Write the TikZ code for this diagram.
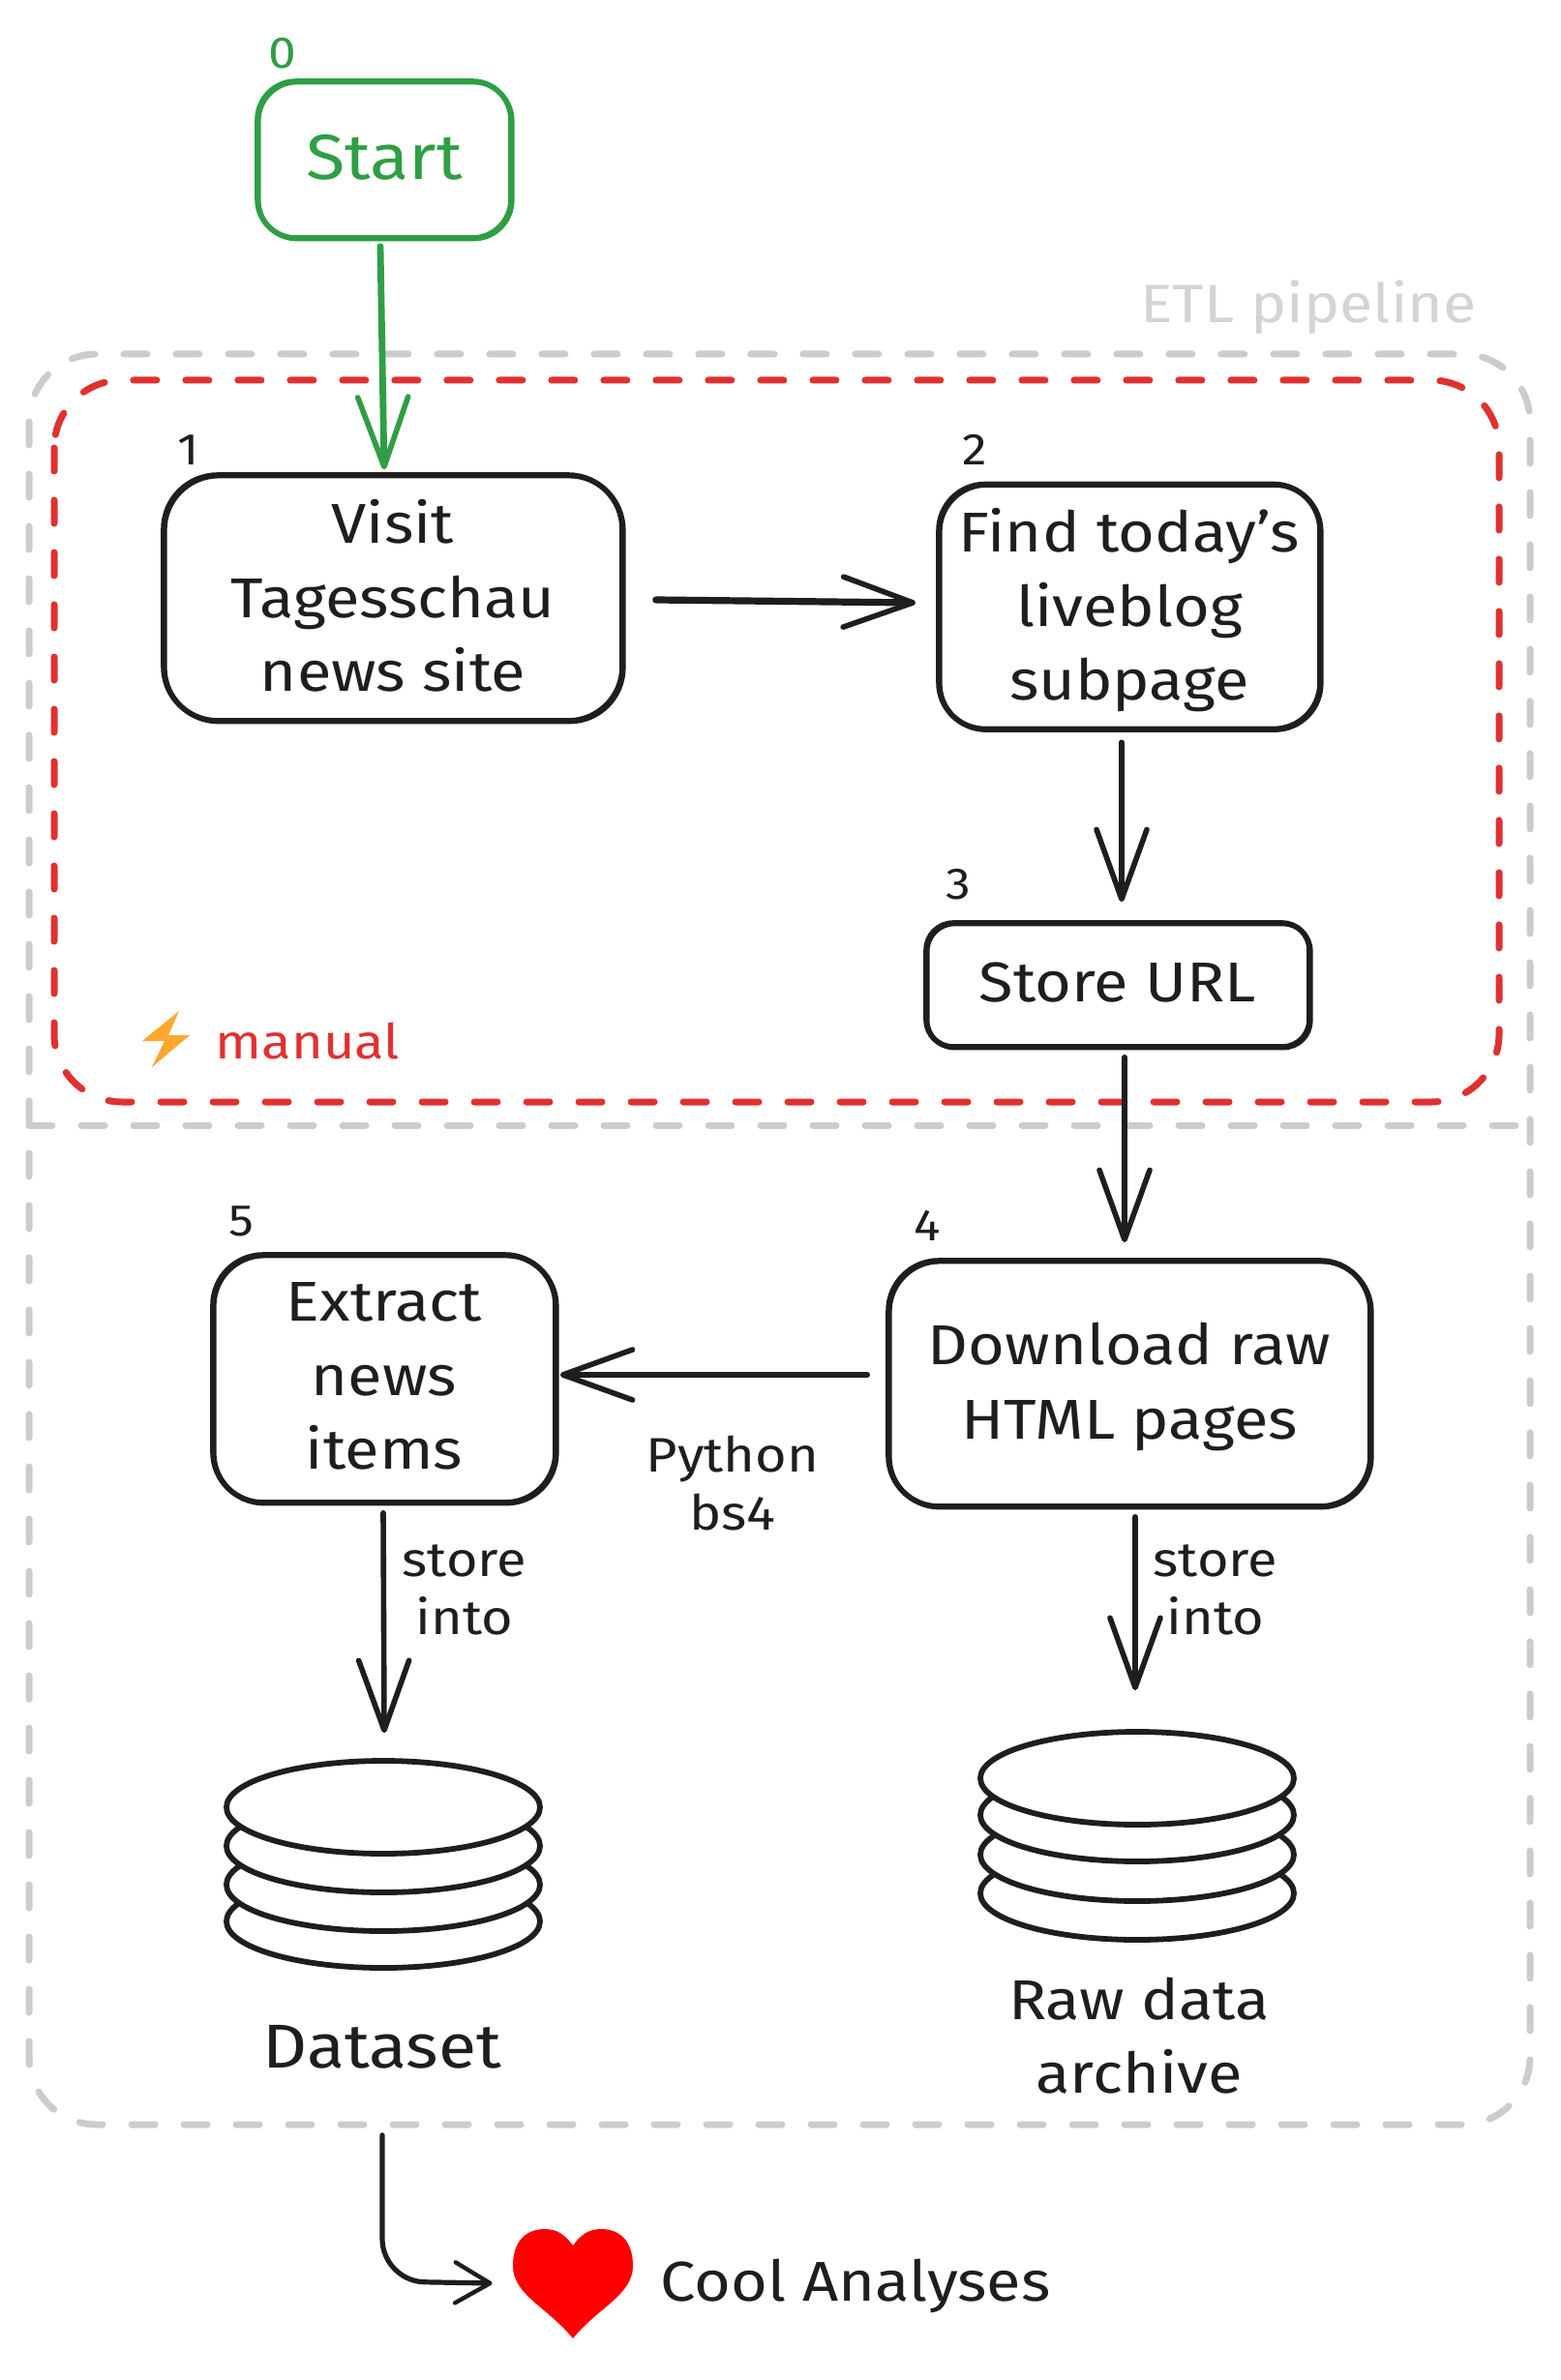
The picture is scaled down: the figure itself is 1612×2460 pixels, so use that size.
\documentclass[tikz,border=0pt]{standalone}
\usepackage{fontspec}
\setmainfont{Fira Sans}[FakeStretch=1.12]
\usetikzlibrary{arrows.meta,shapes.geometric,calc}
\definecolor{ink}{HTML}{1E1E1E}
\definecolor{grn}{HTML}{2F9E44}
\definecolor{rd}{HTML}{E03131}
\definecolor{frame}{HTML}{CCCCCC}
\definecolor{etl}{HTML}{D4D4D4}
\definecolor{bolt}{HTML}{FCA82E}
\newcommand{\liftend}{\\[-35.6pt]}
\tikzset{
  box/.style={draw=ink,text=ink,line width=2.8pt,align=center,inner sep=0pt,
    preaction={draw,line width=2.4pt,transform canvas={shift={(.6pt,-.5pt)}}},
    font=\fontsize{29}{38.2}\selectfont},
  lbl/.style={text=ink,align=center,inner sep=0pt,font=\fontsize{29}{38.2}\selectfont},
  small/.style={text=ink,align=center,inner sep=0pt,font=\fontsize{25}{30}\selectfont},
  num/.style={text=ink,inner sep=0pt,font=\fontsize{23}{26}\selectfont},
  conn/.style={draw=ink,line width=2.8pt,line cap=round,line join=round},
  bar/.style={-{Straight Barb[length=36pt,width=26pt,round,line width=2.8pt]}},
  barb/.style={-{Straight Barb[length=18pt,width=21pt,round,line width=2.2pt]}},
  disk/.style={shape=ellipse,draw=ink,fill=white,line width=2.9pt,inner sep=0pt,
    minimum width=162pt,minimum height=48pt},
  dashframe/.style={line width=3.5pt,line cap=round,dash pattern=on 12pt off 15pt,rounded corners=35pt}
}
\begin{document}
\begin{tikzpicture}[x=.5pt,y=-.5pt]
\useasboundingbox (0,0) rectangle (1612,2460);
\fill[white] (0,0) rectangle (1612,2460);
% frames
\draw[dashframe,draw=frame] (30,366) rectangle (1581,2196);
\draw[line width=3.5pt,line cap=round,dash pattern=on 12pt off 15pt,draw=frame] (30,1163) coordinate (divL) -- (1581,1163) coordinate (divR);
\draw[dashframe,draw=rd] (56,393) rectangle (1549,1139);
\node[inner sep=0pt,text=etl,font=\fontsize{28}{30}\selectfont] (etlt) at (1352,318) {ETL pipeline};
\node[inner sep=0pt,text=rd,font=\fontsize{25}{30}\selectfont] (manual) at (318,1076) {manual};
\fill[bolt] (185,1045) -- (147,1076) -- (170,1076) -- (157,1103) -- (196,1070) -- (174,1070) -- cycle;
% boxes
\node[box,draw=grn,text=grn,minimum width=131pt,minimum height=81pt,rounded corners=20pt,font=\fontsize{33}{38.2}\selectfont] (start) at (397,165) {Start\liftend};
\node[box,minimum width=237pt,minimum height=127pt,rounded corners=28pt] (visit) at (406,618) {Visit\\Tagesschau\\news site\liftend};
\node[box,minimum width=197pt,minimum height=126.5pt,rounded corners=24pt] (find) at (1167,627) {Find today's\\liveblog\\subpage\liftend};
\node[box,minimum width=198pt,minimum height=64pt,rounded corners=14pt] (store) at (1155,1018) {Store URL\liftend};
\node[box,minimum width=249pt,minimum height=127pt,rounded corners=26pt] (down) at (1167,1430) {Download raw\\HTML pages\liftend};
\node[box,minimum width=177pt,minimum height=128pt,rounded corners=26pt] (extract) at (397,1425) {Extract\\news\\items\liftend};
% numbers
\node[num,text=grn] (n0) at (292,55) {0};
\node[num] (n1) at (195,465) {1};
\node[num] (n2) at (1007,465) {2};
\node[num] (n3) at (990,914) {3};
\node[num] (n4) at (958,1267) {4};
\node[num] (n5) at (249,1262) {5};
% dataset disks
\node[disk] (d4) at (396,1986) {};
\node[disk] (d3) at (396,1948) {};
\node[disk] (d2) at (396,1908) {};
\node[disk] (d1) at (396,1868) {};
\node[disk] (r4) at (1175,1957) {};
\node[disk] (r3) at (1175,1917) {};
\node[disk] (r2) at (1175,1876) {};
\node[disk] (r1) at (1175,1838) {};
% labels
\node[lbl,font=\fontsize{32}{38}\selectfont] (dataset) at (395,2116) {Dataset};
\node[lbl] (raw) at (1177,2104) {Raw data\\archive};
\node[lbl] (cool) at (884,2363) {Cool Analyses};
\node[small] (py) at (757,1533) {Python\\bs4};
\node[small] (s1) at (480,1643) {store\\into};
\node[small] (s2) at (1256,1643) {store\\into};
% heart
\path[fill=red] (592,2321) .. controls (600,2310) and (608,2304) .. (621,2304)
  .. controls (642,2304) and (654,2318) .. (654,2342)
  .. controls (654,2372) and (618,2385) .. (592,2417)
  .. controls (566,2385) and (530,2372) .. (530,2342)
  .. controls (530,2318) and (542,2304) .. (563,2304)
  .. controls (576,2304) and (584,2310) .. (592,2321) -- cycle;
\node[inner sep=0pt,minimum width=62pt,minimum height=56pt] (heart) at (592,2360) {};
% connectors
\draw[conn,draw=grn,line width=3.4pt,bar] ($(start.south)+(-4,6)$) -- ($(visit.north)+(-9,-3)$);
\draw[conn,line width=3.6pt,bar] ($(visit.east)+(32,2)$) -- ($(find.west)+(-21,-4)$);
\draw[conn,bar] ($(find.south)+(-8,11)$) -- ($(store.north)+(4,-19)$);
\draw[conn,bar] ($(store.south)+(7,8)$) -- ($(down.north)+(-5,-16)$);
\draw[conn,bar] ($(down.west)+(-19,-9)$) -- ($(extract.east)+(2,-4)$);
\draw[conn,bar] ($(extract.south)+(-1,8)$) -- ($(d1.north)+(1,-26)$);
\draw[conn,bar] ($(down.south)+(6,8)$) -- ($(r1.north)+(-2,-40)$);
\draw[conn,line width=2.6pt,barb,rounded corners=22pt] ($(dataset.south)+(0,68)$) -- (395,2358) -- ($(heart.west)+(-21,0)$);
\end{tikzpicture}
\end{document}
